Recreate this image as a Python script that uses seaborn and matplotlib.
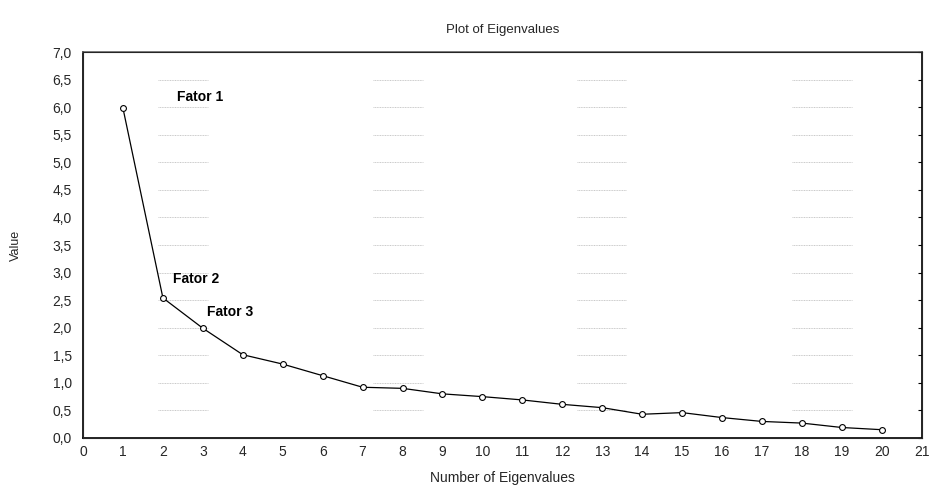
import matplotlib
matplotlib.use("Agg")
import matplotlib.pyplot as plt
import seaborn as sns
import pandas as pd

components = list(range(1, 21))
eigenvalues = [5.98, 2.54, 1.99, 1.51, 1.34, 1.13, 0.92, 0.90, 0.80, 0.75,
               0.69, 0.61, 0.55, 0.43, 0.46, 0.37, 0.30, 0.27, 0.19, 0.15]
y_ticks = [0.0, 0.5, 1.0, 1.5, 2.0, 2.5, 3.0, 3.5, 4.0, 4.5, 5.0, 5.5, 6.0, 6.5, 7.0]
x_ticks = list(range(0, 22))
factor_labels = ["Fator 1", "Fator 2", "Fator 3"]
factor_label_pos = [(2.35, 6.05), (2.25, 2.75), (3.1, 2.15)]
grid_segments = [(1.88, 3.13), (7.26, 8.51), (12.37, 13.6), (17.75, 19.25)]

df = pd.DataFrame({"n": components, "value": eigenvalues})

sns.set_style("white")
plt.rcParams["font.family"] = ["Liberation Sans", "DejaVu Sans"]

fig = plt.figure(figsize=(9.31, 4.91), dpi=100)
ax = fig.add_axes([0.0892, 0.108, 0.9008, 0.786])

for x0, x1 in grid_segments:
    for yv in y_ticks[1:-1]:
        ax.plot([x0, x1], [yv, yv], color="#c8c8c8", lw=0.7, ls=(0, (1, 0.7)), zorder=1)

sns.lineplot(data=df, x="n", y="value", ax=ax, color="black", lw=0.9,
             marker="o", markersize=4.2, markerfacecolor="white",
             markeredgecolor="black", markeredgewidth=0.8, zorder=3)

for lab, (lx, ly) in zip(factor_labels, factor_label_pos):
    ax.text(lx, ly, lab, fontsize=10, fontweight="bold", ha="left", va="bottom", color="black")

ax.set_xlim(0, 21)
ax.set_ylim(0, 7)
ax.set_xticks(x_ticks)
ax.set_xticklabels([str(v) for v in x_ticks])
ax.set_yticks(y_ticks)
ax.set_yticklabels([f"{v:.1f}".replace(".", ",") for v in y_ticks])
ax.tick_params(axis="both", labelsize=10, length=0)
ax.tick_params(axis="x", pad=5)
ax.tick_params(axis="y", pad=8)
ax.set_xlabel("Number of Eigenvalues", fontsize=10, labelpad=9)
ax.set_ylabel("Value", fontsize=9, labelpad=22)
ax.set_title("Plot of Eigenvalues", fontsize=9.5, pad=14)

for side in ["left", "bottom", "right"]:
    ax.spines[side].set_color("black")
    ax.spines[side].set_linewidth(1.2)
ax.spines["top"].set_color("#666666")
ax.spines["top"].set_linewidth(1.2)

ax2 = ax.twinx()
ax2.set_ylim(0, 7)
ax2.set_yticks(y_ticks)
ax2.set_yticklabels([])
ax2.tick_params(axis="y", direction="in", length=3, color="black")
ax2.grid(False)

fig.savefig("out.png", dpi=100)
